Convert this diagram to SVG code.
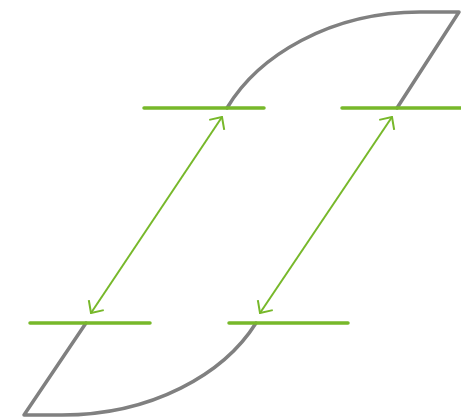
<svg xmlns="http://www.w3.org/2000/svg" width="461" height="417" viewBox="0 0 461 417">
<style>
.shape{fill:none;stroke:#808080;stroke-width:3.5;stroke-linejoin:round;stroke-linecap:round}
.bar{stroke:#77b82a;stroke-width:3.5;stroke-linecap:round}
.arr{stroke:#77b82a;stroke-width:2;fill:none}
</style>
<defs>
<marker id="ah" viewBox="0 0 12 20" refX="11" refY="10" markerWidth="12" markerHeight="20" markerUnits="userSpaceOnUse" orient="auto-start-reverse">
<path d="M1.5,1 L11,10 L1.5,19" fill="none" stroke="#77b82a" stroke-width="2"/>
</marker>
</defs>
<g id="top-shape">
<path class="shape" d="M227,108 C258,56 330,12 420,12 L459,12 L397,108"/>
</g>
<g id="bottom-shape">
<path class="shape" d="M256,323 C224,374 152,415 62,415 L24,415 L86,323"/>
</g>
<g id="top-left-bar"><line class="bar" x1="144" y1="108" x2="264" y2="108"/></g>
<g id="top-right-bar"><line class="bar" x1="342" y1="108" x2="461" y2="108"/></g>
<g id="bottom-left-bar"><line class="bar" x1="30" y1="323" x2="150" y2="323"/></g>
<g id="bottom-right-bar"><line class="bar" x1="229" y1="323" x2="348" y2="323"/></g>
<g id="connectors">
<line class="arr" x1="91" y1="313" x2="222" y2="117" marker-start="url(#ah)" marker-end="url(#ah)"/>
<line class="arr" x1="260" y1="313" x2="392" y2="117" marker-start="url(#ah)" marker-end="url(#ah)"/>
</g>
</svg>
